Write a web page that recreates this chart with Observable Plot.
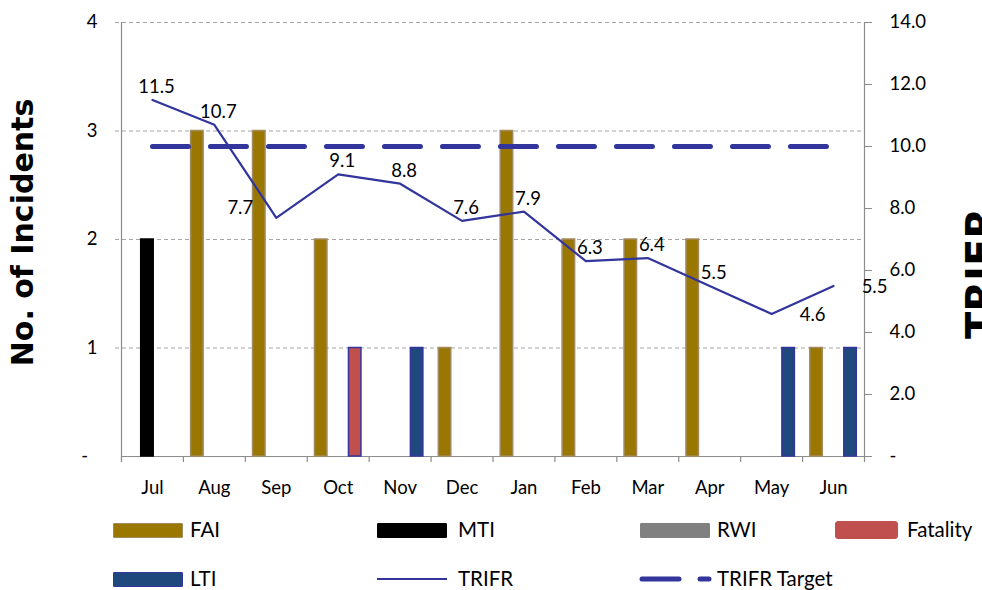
<!DOCTYPE html>
<html>
<head>
<meta charset="utf-8">
<script src="https://cdn.jsdelivr.net/npm/d3@7"></script>
<script src="https://cdn.jsdelivr.net/npm/@observablehq/plot@0.6"></script>
<style>
  html, body { margin: 0; padding: 0; background: #fff; overflow: hidden; }
  #wrap { position: relative; width: 982px; height: 590px; overflow: hidden; font-family: Lato, "Open Sans", sans-serif; }
  #chart { position: absolute; left: 0; top: 0; }
  .lg { position: absolute; font-size: 20.5px; color: #000; line-height: 1; white-space: nowrap; }
  .sw { position: absolute; box-sizing: border-box; }
</style>
</head>
<body>
<div id="wrap">
  <div id="chart"></div>
</div>
<script>
// ---- data ----
const months = ["Jul","Aug","Sep","Oct","Nov","Dec","Jan","Feb","Mar","Apr","May","Jun"];
const fai      = [0, 3, 3, 2, 0, 1, 3, 2, 2, 2, 0, 1];
const mti      = [2, 0, 0, 0, 0, 0, 0, 0, 0, 0, 0, 0];
const rwi      = [0, 0, 0, 0, 0, 0, 0, 0, 0, 0, 0, 0];
const fatality = [0, 0, 0, 1, 0, 0, 0, 0, 0, 0, 0, 0];
const lti      = [0, 0, 0, 0, 1, 0, 0, 0, 0, 0, 1, 1];
const trifr    = [11.5, 10.7, 7.7, 9.1, 8.8, 7.6, 7.9, 6.3, 6.4, 5.5, 4.6, 5.5];
const trifrTarget = 10.0;
const leftTicks  = [0, 1, 2, 3, 4];
const rightTicks = [0, 2, 4, 6, 8, 10, 12, 14];
const leftMax = 4, rightMax = 14;

// ---- layout ----
const W = 982, H = 505;
const mL = 121, mR = 118, mT = 22, mB = 49;
const bw = (W - mL - mR) / months.length;
const barW = 12.5;
const inset = (bw - barW) / 2;
const k = leftMax / rightMax;               // right-axis value -> left-axis units
const tickU = 6 / ((H - mT - mB) / leftMax); // 6px in y units

const colors = {
  FAI: "#9A7700", FAIstroke: "#A38A5C",
  MTI: "#000000",
  RWI: "#808080",
  Fatality: "#C0504D",
  LTI: "#1F497D",
  blueEdge: "#3434A0",
  line: "#31359C"
};

const series = (vals) => months.map((m, i) => ({month: m, value: vals[i]})).filter(d => d.value > 0);
const lineData = months.map((m, i) => ({month: m, value: trifr[i]}));
const targetData = [{month: months[0], value: trifrTarget}, {month: months[months.length - 1], value: trifrTarget}];

const rightLabel = d => {
  const v = Math.round(d / k * 10) / 10;
  return v === 0 ? "-" : v.toFixed(1);
};

const barOpts = (fill, stroke, dx) => ({
  x: "month", y: "value", fill, stroke, strokeWidth: 1.5,
  insetLeft: inset, insetRight: inset, dx
});

const rightLabelsGroup = ["May", "Jun"];
const leftLabelsGroup = ["Sep"];

const chart = Plot.plot({
  width: W, height: H,
  marginLeft: mL, marginRight: mR, marginTop: mT, marginBottom: mB,
  style: {fontFamily: "Lato, 'Open Sans', sans-serif", background: "#fff", overflow: "visible"},
  x: {type: "band", domain: months, padding: 0, round: false, axis: null, label: null},
  y: {domain: [0, leftMax], axis: null, label: null},
  marks: [
    // grid
    Plot.ruleY([1, 2, 3, 4], {stroke: "#a6a6a6", strokeDasharray: "4,3", insetLeft: -6}),
    // axis lines
    Plot.ruleY([0], {stroke: "#8c8c8c", strokeWidth: 1.2}),
    Plot.ruleX(months, {x: d => d, dx: -bw / 2, y1: 0, y2: -tickU, stroke: "#8c8c8c", strokeWidth: 1.2}),
    Plot.ruleX([months[0]], {x: d => d, dx: -bw / 2, y1: -tickU, y2: leftMax, stroke: "#8c8c8c", strokeWidth: 1.2}),
    Plot.ruleX([months[months.length - 1]], {x: d => d, dx: bw / 2, y1: -tickU, y2: leftMax, stroke: "#8c8c8c", strokeWidth: 1.2}),
    // axes
    Plot.axisX({anchor: "bottom", label: null, tickSize: 0, tickPadding: 24, fontSize: 18.5, fill: "#000"}),
    Plot.axisY(leftTicks, {anchor: "left", label: null, tickSize: 0, tickPadding: 24, fontSize: 18.5, fill: "#000",
      tickFormat: d => d === 0 ? "-\u00a0\u00a0" : String(d)}),
    Plot.axisY(rightTicks.map(v => v * k), {anchor: "right", label: null, tickSize: 7, tickPadding: 18, fontSize: 18.5,
      stroke: "#8c8c8c", fill: "#000", tickFormat: rightLabel}),
    // bars
    Plot.barY(series(fai), barOpts(colors.FAI, colors.FAIstroke, -17)),
    Plot.barY(series(mti), barOpts(colors.MTI, colors.MTI, -5)),
    Plot.barY(series(rwi), barOpts(colors.RWI, colors.RWI, 6)),
    Plot.barY(series(fatality), barOpts(colors.Fatality, colors.blueEdge, 17)),
    Plot.barY(series(lti), barOpts(colors.LTI, colors.blueEdge, 17)),
    // target
    Plot.line(targetData, {x: "month", y: d => d.value * k, stroke: colors.line, strokeWidth: 5,
      strokeDasharray: "36,22", strokeLinecap: "round"}),
    // TRIFR line
    Plot.line(lineData, {x: "month", y: d => d.value * k, stroke: colors.line, strokeWidth: 2.2}),
    // data labels
    Plot.text(lineData.filter(d => !rightLabelsGroup.includes(d.month) && !leftLabelsGroup.includes(d.month)),
      {x: "month", y: d => d.value * k, text: d => d.value.toFixed(1), dx: 4, dy: -13, fontSize: 18.5, fill: "#000"}),
    Plot.text(lineData.filter(d => leftLabelsGroup.includes(d.month)),
      {x: "month", y: d => d.value * k, text: d => d.value.toFixed(1), dx: -36, dy: -10, fontSize: 18.5, fill: "#000"}),
    Plot.text(lineData.filter(d => rightLabelsGroup.includes(d.month)),
      {x: "month", y: d => d.value * k, text: d => d.value.toFixed(1), dx: 41, dy: 1, fontSize: 18.5, fill: "#000"}),
    // axis titles
    Plot.text(["No. of Incidents"], {frameAnchor: "left", textAnchor: "middle", text: d => d, rotate: -90, dx: 23 - mL, dy: -7,
      fontSize: 30, fontWeight: "bold", fontFamily: "DejaVu Sans", letterSpacing: 1, fill: "#000"}),
    Plot.text(["TRIFR"], {frameAnchor: "right", textAnchor: "middle", text: d => d, rotate: -90, dx: 982 - (W - mR), dy: 34,
      fontSize: 40, fontWeight: "bold", fontFamily: "DejaVu Sans", fill: "#000"})
  ]
});
document.getElementById("chart").appendChild(chart);

// ---- legend ----
const wrap = document.getElementById("wrap");
function addSwatch(left, top, w, h, fill, stroke, radius) {
  const s = document.createElement("div");
  s.className = "sw";
  Object.assign(s.style, {left: left + "px", top: top + "px", width: w + "px", height: h + "px",
    background: fill, border: `1.5px solid ${stroke}`, borderRadius: (radius || 1) + "px"});
  wrap.appendChild(s);
}
function addLabel(left, centerY, text) {
  const t = document.createElement("div");
  t.className = "lg";
  t.textContent = text;
  Object.assign(t.style, {left: left + "px", top: (centerY - 11) + "px"});
  wrap.appendChild(t);
}
const legendRow1 = 523, legendRow2 = 572;
addSwatch(113, legendRow1, 70, 15, colors.FAI, colors.FAIstroke);   addLabel(190, 530, "FAI");
addSwatch(377, legendRow1, 70, 15, colors.MTI, colors.MTI);         addLabel(458, 530, "MTI");
addSwatch(640, legendRow1, 70, 15, colors.RWI, colors.RWI);         addLabel(717, 530, "RWI");
addSwatch(835, legendRow1 - 2, 63, 18, colors.Fatality, colors.Fatality, 3); addLabel(907, 530, "Fatality");
addSwatch(113, legendRow2, 70, 15, colors.LTI, colors.blueEdge);    addLabel(190, 579, "LTI");
// line swatches
const ls = document.createElementNS("http://www.w3.org/2000/svg", "svg");
ls.setAttribute("width", 982); ls.setAttribute("height", 590);
Object.assign(ls.style, {position: "absolute", left: "0px", top: "0px", pointerEvents: "none"});
ls.innerHTML = `<line x1="377" x2="447" y1="579" y2="579" stroke="${colors.line}" stroke-width="2.2"/>
  <line x1="642" x2="679" y1="579" y2="579" stroke="${colors.line}" stroke-width="5" stroke-linecap="round"/>
  <line x1="700" x2="709" y1="579" y2="579" stroke="${colors.line}" stroke-width="5" stroke-linecap="round"/>`;
wrap.appendChild(ls);
addLabel(458, 579, "TRIFR");
addLabel(717, 579, "TRIFR Target");
</script>
</body>
</html>
